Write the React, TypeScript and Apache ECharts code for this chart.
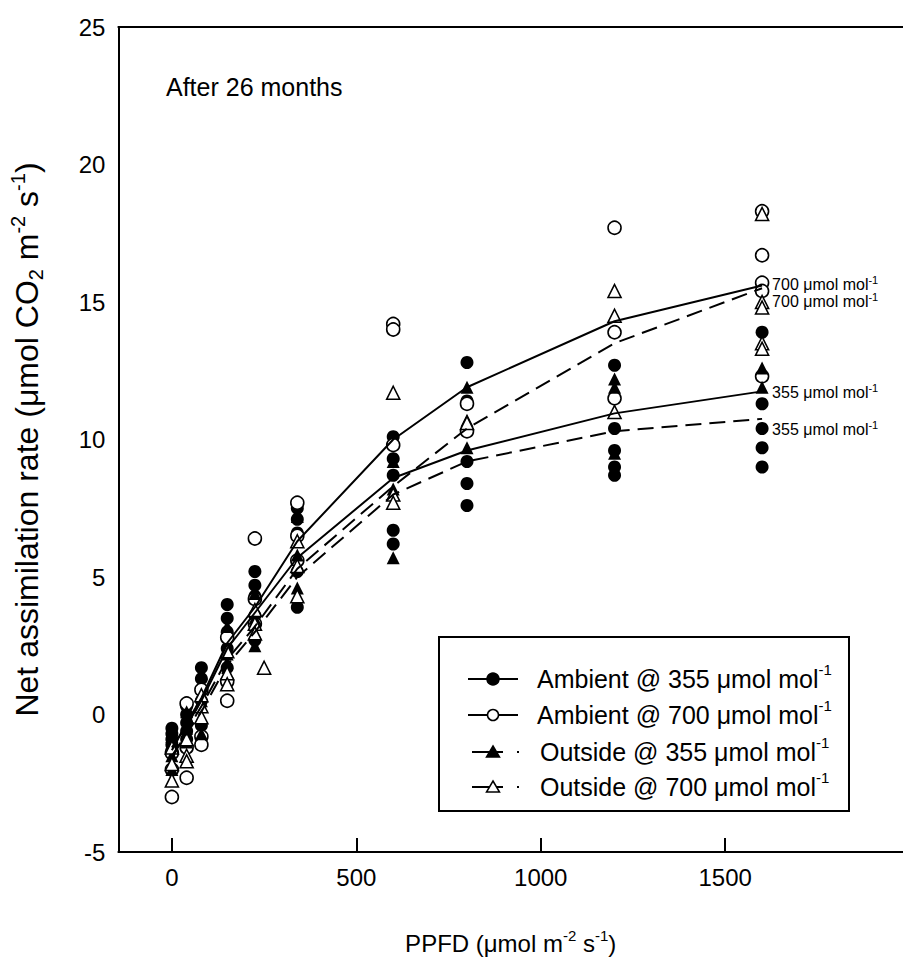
import React, { useEffect, useRef } from 'react';
import * as echarts from 'echarts';

const FONT = '"Liberation Sans", Arial, Helvetica, sans-serif';

// Axis ticks
const PPFD_TICKS = [0, 500, 1000, 1500];
const Y_MIN = -5;
const Y_MAX = 25;
const Y_STEP = 5;

// Mean response curves (PPFD levels and mean assimilation)
const MEAN_PPFD = [0, 40, 80, 150, 225, 340, 600, 800, 1200, 1600];
const MEAN_AMBIENT_355 = [-1.2, -0.4, 0.5, 2.4, 3.7, 5.7, 8.6, 9.6, 10.95, 11.75];
const MEAN_AMBIENT_700 = [-1.3, -0.3, 0.6, 2.6, 3.9, 6.3, 10.0, 11.9, 14.3, 15.6];
const MEAN_OUTSIDE_355 = [-1.5, -0.7, 0.1, 1.8, 3.0, 5.0, 8.0, 9.2, 10.3, 10.75];
const MEAN_OUTSIDE_700 = [-1.6, -0.6, 0.3, 2.0, 3.2, 5.3, 8.3, 10.4, 13.5, 15.5];

// Individual measurements [PPFD, assimilation]
const PTS_AMBIENT_355: [number, number][] = [
  [0, -0.5], [0, -0.7], [0, -0.9], [0, -1.1], [0, -1.3],
  [40, 0.3], [40, 0.0], [40, -0.3], [40, -0.6], [40, -0.9],
  [80, 1.7], [80, 1.3], [80, 0.9], [80, 0.5], [80, -0.4],
  [150, 4.0], [150, 3.5], [150, 3.0], [150, 2.4], [150, 1.7],
  [225, 5.2], [225, 4.7], [225, 4.3], [225, 3.6], [225, 2.7],
  [340, 7.5], [340, 7.1], [340, 6.6], [340, 5.2], [340, 3.9],
  [600, 10.1], [600, 9.3], [600, 8.7], [600, 6.7], [600, 6.2],
  [800, 12.8], [800, 11.4], [800, 9.2], [800, 8.4], [800, 7.6],
  [1200, 12.7], [1200, 10.4], [1200, 9.6], [1200, 9.0], [1200, 8.7],
  [1600, 13.9], [1600, 11.3], [1600, 10.4], [1600, 9.7], [1600, 9.0],
];
const PTS_AMBIENT_700: [number, number][] = [
  [0, -3.0], [0, -2.0], [0, -1.4],
  [40, 0.4], [40, -1.2], [40, -2.3],
  [80, 0.9], [80, -0.8], [80, -1.1],
  [150, 2.8], [150, 1.2], [150, 0.5],
  [225, 6.4], [225, 4.2], [225, 3.3],
  [340, 7.7], [340, 6.5], [340, 5.6],
  [600, 14.2], [600, 14.0], [600, 9.8],
  [800, 11.3], [800, 10.3],
  [1200, 17.7], [1200, 13.9], [1200, 11.5],
  [1600, 18.3], [1600, 16.7], [1600, 15.7], [1600, 15.4], [1600, 12.3],
];
const PTS_OUTSIDE_355: [number, number][] = [
  [0, -0.8], [0, -1.5], [0, -2.0],
  [40, 0.1], [40, -0.5], [40, -1.0],
  [80, 1.5], [80, 0.5], [80, -0.7],
  [150, 3.2], [150, 2.2], [150, 1.9],
  [225, 4.4], [225, 3.5], [225, 2.5],
  [340, 7.2], [340, 5.8], [340, 4.6],
  [600, 9.2], [600, 8.2], [600, 5.7],
  [800, 11.9], [800, 10.7], [800, 9.7],
  [1200, 12.2], [1200, 11.9], [1200, 9.5],
  [1600, 12.6], [1600, 11.9],
];
const PTS_OUTSIDE_700: [number, number][] = [
  [0, -1.2], [0, -1.8], [0, -2.4],
  [40, -0.9], [40, -1.5], [40, -1.7],
  [80, 0.7], [80, 0.3], [80, -0.1],
  [150, 2.3], [150, 1.5], [150, 1.1],
  [225, 3.8], [225, 3.3], [225, 2.95],
  [250, 1.7],
  [340, 6.3], [340, 5.4], [340, 4.3],
  [600, 11.7], [600, 8.0], [600, 7.7],
  [800, 10.6],
  [1200, 15.4], [1200, 14.5], [1200, 11.0],
  [1600, 18.2], [1600, 15.0], [1600, 14.8], [1600, 13.5], [1600, 13.3],
];

const LEGEND_LABELS = [
  'Ambient @ 355 μmol mol',
  'Ambient @ 700 μmol mol',
  'Outside @ 355 μmol mol',
  'Outside @ 700 μmol mol',
];
const END_LABELS = ['355 μmol mol', '700 μmol mol', '355 μmol mol', '700 μmol mol'];

const toPairs = (ys: number[]) => MEAN_PPFD.map((x, i) => [x, ys[i]]);

const supRich = (size: number, supSize: number, lh = 1.25) => ({
  t: { fontSize: size, fontFamily: FONT, color: '#000', lineHeight: size * lh },
  sup: { fontSize: supSize, fontFamily: FONT, color: '#000', verticalAlign: 'top', lineHeight: supSize * 1.1 },
  sub: { fontSize: supSize, fontFamily: FONT, color: '#000', verticalAlign: 'bottom', lineHeight: supSize * 1.1 },
});

export default function App() {
  const ref = useRef<HTMLDivElement>(null);

  useEffect(() => {
    document.body.style.margin = '0';
    document.body.style.overflow = 'hidden';
    if (!ref.current) return;
    const chart = echarts.init(ref.current, undefined, { renderer: 'svg' });

    const filled = { color: '#000', opacity: 1 };
    const open = { color: '#fff', borderColor: '#000', borderWidth: 1.6, opacity: 1 };

    const scatter = (name: string, data: [number, number][], symbol: string, style: any) => ({
      type: 'scatter',
      name,
      data,
      symbol,
      symbolSize: 13,
      itemStyle: style,
      silent: true,
      z: 2,
    });

    const line = (name: string, ys: number[], dashed: boolean, label: string, offsetY: number) => ({
      type: 'line',
      name,
      data: toPairs(ys),
      showSymbol: false,
      symbol: 'none',
      lineStyle: { color: '#000', width: 2, type: dashed ? [16, 8] : 'solid' },
      silent: true,
      z: 3,
      endLabel: {
        show: true,
        formatter: `{t|${label}}{sup|-1}`,
        distance: 10,
        offset: [0, offsetY],
        rich: supRich(16, 11),
      },
    });

    const legendRowsY = [679, 715, 752, 787];
    const legendEls: any[] = [
      {
        type: 'rect',
        shape: { x: 439, y: 637, width: 410, height: 174 },
        style: { fill: '#fff', stroke: '#000', lineWidth: 2 },
      },
    ];
    legendRowsY.forEach((y, i) => {
      const outside = i >= 2;
      const isFilled = i % 2 === 0;
      if (!outside) {
        legendEls.push({ type: 'line', shape: { x1: 468, y1: y, x2: 518, y2: y }, style: { stroke: '#000', lineWidth: 2 } });
        legendEls.push({ type: 'circle', shape: { cx: 493, cy: y, r: isFilled ? 6 : 5.5 }, style: { fill: isFilled ? '#000' : '#fff', stroke: '#000', lineWidth: 1.5 } });
      } else {
        legendEls.push({ type: 'line', shape: { x1: 472, y1: y, x2: 503, y2: y }, style: { stroke: '#000', lineWidth: 2 } });
        legendEls.push({ type: 'line', shape: { x1: 517, y1: y, x2: 519, y2: y }, style: { stroke: '#000', lineWidth: 2 } });
        legendEls.push({
          type: 'polygon',
          shape: { points: [[493, y - 6], [499.5, y + 5], [486.5, y + 5]] },
          style: { fill: isFilled ? '#000' : '#fff', stroke: '#000', lineWidth: 1.5 },
        });
      }
      legendEls.push({
        type: 'text',
        x: outside ? 540 : 537,
        y,
        style: {
          text: `{t|${LEGEND_LABELS[i]}}{sup|-1}`,
          verticalAlign: 'middle',
          rich: supRich(25, 15, 1.35),
        },
      });
    });

    chart.setOption({
      animation: false,
      backgroundColor: '#fff',
      grid: { left: 113, top: 27, right: 0, bottom: 89, containLabel: false },
      xAxis: [
        {
          type: 'value',
          min: -145,
          max: 1982,
          name: '{t|PPFD (μmol m}{sup|-2}{t| s}{sup|-1}{t|)}',
          nameLocation: 'middle',
          nameGap: 76,
          nameTextStyle: { rich: supRich(24, 15) },
          axisLine: { onZero: false, lineStyle: { color: '#000', width: 2 } },
          axisTick: { inside: true, length: 14, customValues: PPFD_TICKS, lineStyle: { color: '#000', width: 2 } },
          axisLabel: {
            customValues: PPFD_TICKS,
            formatter: (v: number) => String(v),
            fontSize: 24,
            fontFamily: FONT,
            color: '#000',
            margin: 13,
          },
          splitLine: { show: false },
        },
        {
          type: 'value',
          position: 'top',
          min: -145,
          max: 1982,
          axisLine: { show: true, onZero: false, lineStyle: { color: '#000', width: 2 } },
          axisTick: { show: false },
          axisLabel: { show: false },
          splitLine: { show: false },
        },
      ],
      yAxis: {
        type: 'value',
        min: Y_MIN,
        max: Y_MAX,
        interval: Y_STEP,
        name: '{t|Net assimilation rate (μmol CO}{sub|2}{t| m}{sup|-2}{t| s}{sup|-1}{t|)}',
        nameLocation: 'middle',
        nameRotate: 90,
        nameGap: 72,
        nameTextStyle: { rich: supRich(32, 20, 1.2) },
        axisLine: { show: true, onZero: false, lineStyle: { color: '#000', width: 2 } },
        axisTick: { show: false },
        axisLabel: { fontSize: 24, fontFamily: FONT, color: '#000', margin: 13 },
        splitLine: { show: false },
      },
      series: [
        scatter('Ambient @ 355', PTS_AMBIENT_355, 'circle', filled),
        scatter('Ambient @ 700', PTS_AMBIENT_700, 'circle', open),
        scatter('Outside @ 355', PTS_OUTSIDE_355, 'triangle', filled),
        scatter('Outside @ 700', PTS_OUTSIDE_700, 'triangle', open),
        line('Ambient @ 355 mean', MEAN_AMBIENT_355, false, END_LABELS[0], 1),
        line('Ambient @ 700 mean', MEAN_AMBIENT_700, false, END_LABELS[1], -1),
        line('Outside @ 355 mean', MEAN_OUTSIDE_355, true, END_LABELS[2], 11),
        line('Outside @ 700 mean', MEAN_OUTSIDE_700, true, END_LABELS[3], 13),
      ],
      graphic: [
        {
          type: 'text',
          x: 166,
          y: 87,
          style: { text: 'After 26 months', fontSize: 25, fontFamily: FONT, fill: '#000', verticalAlign: 'middle' },
        },
        { type: 'group', z: 100, children: legendEls },
      ],
    });

    return () => chart.dispose();
  }, []);

  return <div ref={ref} style={{ width: 903, height: 960 }} />;
}
